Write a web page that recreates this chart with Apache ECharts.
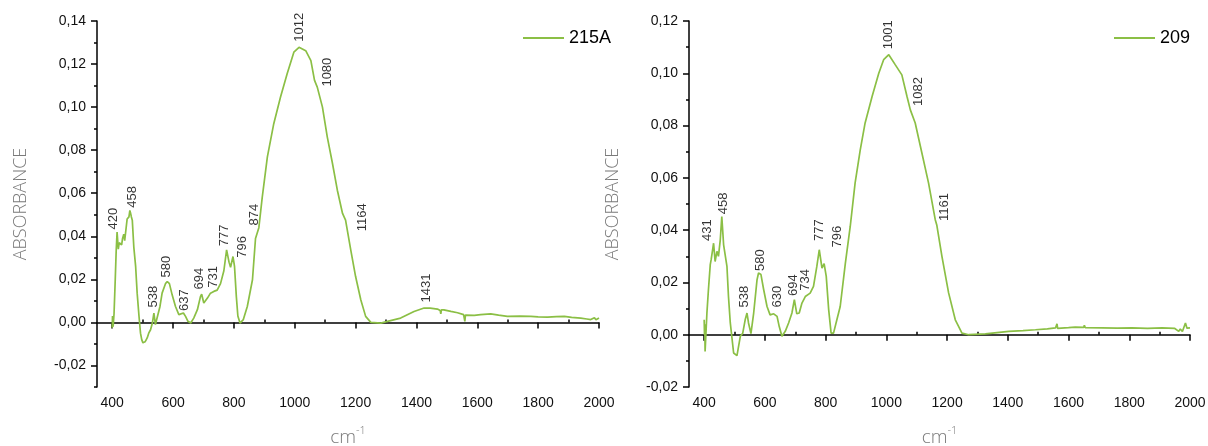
<!DOCTYPE html>
<html>
<head>
<meta charset="utf-8">
<script src="https://cdn.jsdelivr.net/npm/echarts@6/dist/echarts.min.js"></script>
<style>
html,body{margin:0;padding:0;background:#fff;}
#c{width:1208px;height:446px;}
</style>
</head>
<body>
<div id="c"></div>
<script>
// ---- Data: sample 215A ----
const wn215 = [400,401,403,406,410,413,416,418,420,423,427,431,434,438,441,444,449,455,458,460,463,466,471,477,482,488,493,497,501,504,508,515,520,526,532,537,542,548,557,564,575,581,588,597,608,619,625,634,641,649,658,668,680,690,694,701,713,723,734,745,756,767,776,784,789,797,802,808,813,820,831,844,861,871,877,882,893,910,931,953,975,997,1014,1036,1053,1065,1074,1091,1107,1124,1140,1157,1167,1184,1200,1217,1233,1250,1283,1305,1348,1392,1425,1445,1469,1478,1480,1482,1490,1513,1535,1555,1559,1561,1590,1611,1644,1670,1699,1740,1776,1800,1831,1860,1886,1910,1940,1960,1973,1985,1990,2000];
const abs215 = [-0.0025,0.003,-0.002,0.004,0.02,0.033,0.042,0.038,0.034,0.037,0.0375,0.036,0.039,0.041,0.038,0.0375,0.048,0.049,0.052,0.051,0.049,0.0475,0.035,0.026,0.0136,0.003,-0.005,-0.008,-0.0095,-0.0103,-0.009,-0.0072,-0.005,-0.0034,-0.0003,0.0043,-0.001,-0.0003,0.0074,0.0136,0.018,0.019,0.018,0.0128,0.0074,0.0036,0.0044,0.0044,0.0028,0.0005,-0.0003,0.002,0.0059,0.012,0.0131,0.009,0.0113,0.0136,0.0144,0.015,0.018,0.024,0.0337,0.028,0.0256,0.0306,0.026,0.012,0.003,-0.0003,0.0013,0.0074,0.0198,0.039,0.0398,0.044,0.058,0.0769,0.0923,0.1046,0.1155,0.1255,0.1278,0.1262,0.1216,0.1124,0.1093,0.1,0.0861,0.0738,0.0614,0.0506,0.0475,0.0337,0.0213,0.0105,0.0028,0.0,-0.0003,0.0005,0.002,0.0051,0.0067,0.0066,0.0062,0.0055,0.004,0.0058,0.0058,0.0051,0.0045,0.0036,0.0005,0.0034,0.0033,0.0036,0.004,0.0034,0.0028,0.0029,0.0028,0.0026,0.0025,0.0027,0.0028,0.0023,0.002,0.0016,0.0013,0.0022,0.0012,0.002];
const peakText215 = ['420','458','538','580','637','694','731','777','796','874','1012','1080','1164','1431'];
const peakX215 = [405,468,535,578,636,688,734,769,827,868,1014,1107,1222,1433];
const peakY215 = [0.0429,0.053,0.0067,0.0206,0.0051,0.0151,0.0159,0.0352,0.0298,0.0448,0.1301,0.1093,0.0421,0.009];

// ---- Data: sample 209 ----
const wn209 = [400,401,402,403,409,414,420,423,426,431,436,442,447,453,458,464,469,475,480,486,497,501,508,519,527,535,541,546,554,563,574,579,587,596,607,617,629,640,647,656,667,678,689,697,705,713,722,733,749,760,771,779,788,795,802,810,818,826,837,848,865,881,897,914,930,953,975,991,1008,1029,1051,1068,1079,1095,1117,1139,1161,1166,1183,1205,1227,1249,1271,1326,1403,1450,1491,1530,1557,1562,1564,1600,1622,1650,1652,1655,1710,1760,1809,1860,1908,1950,1963,1968,1975,1985,1990,1995,2000];
const abs209 = [0.0057,0.0,0.004,-0.0064,0.0083,0.0172,0.0268,0.0287,0.028,0.035,0.028,0.0319,0.03,0.0363,0.0452,0.0344,0.035,0.0261,0.0146,0.0045,-0.007,-0.0075,-0.008,-0.0006,0.0006,0.0057,0.0083,0.0045,0.0004,0.0083,0.021,0.0236,0.023,0.0172,0.0108,0.0076,0.008,0.007,0.0032,-0.0006,0.0013,0.0045,0.0083,0.0134,0.008,0.0083,0.0121,0.0146,0.0159,0.0185,0.0261,0.0325,0.0255,0.0272,0.0223,0.0096,0.0006,0.0006,0.0057,0.0108,0.0274,0.0414,0.058,0.0707,0.081,0.0911,0.1,0.1052,0.1071,0.1033,0.0994,0.0911,0.086,0.081,0.0695,0.058,0.044,0.042,0.03,0.016,0.0057,0.0006,0.0,0.0003,0.0013,0.0016,0.0019,0.0022,0.0026,0.0042,0.0024,0.0027,0.0029,0.0028,0.0036,0.0027,0.0026,0.0025,0.0026,0.0024,0.0026,0.0024,0.0013,0.0022,0.0012,0.0045,0.0025,0.0019,0.0026];
const peakText209 = ['431','458','538','580','630','694','734','777','796','1001','1082','1161'];
const peakX209 = [412,464,533,585,640,695,733,780,839,1006,1106,1192];
const peakY209 = [0.0357,0.0459,0.0102,0.0242,0.0102,0.0146,0.0166,0.0357,0.0332,0.109,0.0873,0.0433];

// ---- Axis ticks ----
const xMajor = [400,600,800,1000,1200,1400,1600,1800,2000];
const xMinor = [500,700,900,1100,1300,1500,1700,1900];
const yMajorL = [-0.02,0,0.02,0.04,0.06,0.08,0.10,0.12,0.14];
const yMinorL = [-0.03,-0.01,0.01,0.03,0.05,0.07,0.09,0.11,0.13];
const yMajorR = [-0.02,0,0.02,0.04,0.06,0.08,0.10,0.12];
const yMinorR = [-0.01,0.01,0.03,0.05,0.07,0.09,0.11];

const GREEN = '#8bbf45';
const AXIS_FONT = 'Liberation Sans, Arial, sans-serif';
const TITLE_FONT = 'Open Sans, Lato, sans-serif';

function pairs(xs, ys){ return xs.map((x,i)=>[x, ys[i]]); }
function triples(xs, ys, t){ return xs.map((x,i)=>[x, ys[i], t[i]]); }
function fmtY(v){ return v.toFixed(2).replace('.', ','); }
function fmtX(v){ return String(Math.round(v)); }

function xAxes(grid){
  return [
    {gridIndex:grid, type:'value', min:350, max:2000,
     axisLine:{show:true, lineStyle:{color:'#000', width:1.5}},
     axisTick:{show:true, customValues:xMajor, length:6, inside:false, lineStyle:{color:'#000', width:1.5}},
     axisLabel:{customValues:xMajor, color:'#111', fontSize:14, fontFamily:AXIS_FONT, margin:9, formatter:fmtX},
     splitLine:{show:false},
     name:'{a|cm}{b|-1}', nameLocation:'middle', nameGap:38,
     nameTextStyle:{rich:{
       a:{fontSize:19, color:'#7a7a7a', fontFamily:TITLE_FONT, fontWeight:300, verticalAlign:'bottom'},
       b:{fontSize:11, color:'#7a7a7a', fontFamily:TITLE_FONT, fontWeight:300, verticalAlign:'top', padding:[0,0,11,0]}
     }}},
    {gridIndex:grid, type:'value', min:350, max:2000,
     axisLine:{show:false},
     axisTick:{show:true, customValues:xMinor, length:3, inside:false, lineStyle:{color:'#000', width:1.5}},
     axisLabel:{show:false}, splitLine:{show:false}}
  ];
}
function yAxes(grid, min, max, major, minor){
  return [
    {gridIndex:grid, type:'value', min:min, max:max, position:'left',
     axisLine:{show:true, lineStyle:{color:'#000', width:1.5}},
     axisTick:{show:true, customValues:major, length:6, inside:false, lineStyle:{color:'#000', width:1.5}},
     axisLabel:{customValues:major, color:'#111', fontSize:14, fontFamily:AXIS_FONT, margin:11, formatter:fmtY},
     splitLine:{show:false},
     name:'ABSORBANCE', nameLocation:'middle', nameRotate:90, nameGap:67,
     nameTextStyle:{fontSize:18, color:'#7a7a7a', fontFamily:TITLE_FONT, fontWeight:300}},
    {gridIndex:grid, type:'value', min:min, max:max, position:'left',
     axisLine:{show:false},
     axisTick:{show:true, customValues:minor, length:3, inside:false, lineStyle:{color:'#000', width:1.5}},
     axisLabel:{show:false}, splitLine:{show:false}}
  ];
}
function labelSeries(xi, yi, data){
  return {type:'scatter', xAxisIndex:xi, yAxisIndex:yi, data:data, symbolSize:1, silent:true,
    itemStyle:{color:'rgba(0,0,0,0)'},
    label:{show:true, position:'top', distance:0, rotate:90, align:'left', verticalAlign:'middle',
      formatter:p=>p.value[2], fontSize:13, color:'#000', fontFamily:AXIS_FONT}};
}

const chart = echarts.init(document.getElementById('c'), null, {renderer:'canvas'});
chart.setOption({
  animation:false,
  backgroundColor:'#fff',
  grid:[
    {left:97, top:21, width:502, height:366, outerBoundsMode:'none', containLabel:false},
    {left:689, top:21, width:501, height:366, outerBoundsMode:'none', containLabel:false}
  ],
  legend:[
    {data:['215A'], left:518, top:24, icon:'rect', itemWidth:41, itemHeight:2, itemGap:6,
     textStyle:{fontSize:18, color:'#000', fontFamily:AXIS_FONT}},
    {data:['209'], left:1109, top:24, icon:'rect', itemWidth:41, itemHeight:2, itemGap:6,
     textStyle:{fontSize:18, color:'#000', fontFamily:AXIS_FONT}}
  ],
  xAxis:[...xAxes(0), ...xAxes(1)],
  yAxis:[...yAxes(0,-0.03,0.14,yMajorL,yMinorL), ...yAxes(1,-0.02,0.12,yMajorR,yMinorR)],
  series:[
    {name:'215A', type:'line', xAxisIndex:0, yAxisIndex:0, data:pairs(wn215,abs215),
     symbol:'none', lineStyle:{color:GREEN, width:1.7}, itemStyle:{color:GREEN}},
    labelSeries(0,0,triples(peakX215,peakY215,peakText215)),
    {name:'209', type:'line', xAxisIndex:2, yAxisIndex:2, data:pairs(wn209,abs209),
     symbol:'none', lineStyle:{color:GREEN, width:1.7}, itemStyle:{color:GREEN}},
    labelSeries(2,2,triples(peakX209,peakY209,peakText209))
  ]
});
</script>
</body>
</html>
